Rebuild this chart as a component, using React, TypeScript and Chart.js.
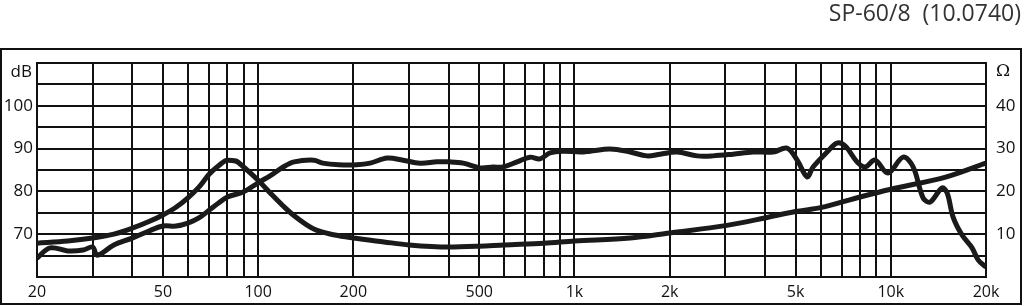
import React, { useEffect, useRef } from "react";
import { Chart, registerables } from "chart.js";

Chart.register(...registerables);

// Frequency response (SPL, dB) – frequencies in Hz
const splFreqs = [20, 22, 25, 28, 30, 31, 35, 40, 45, 50, 55, 60, 65, 70, 75, 80, 90, 100, 110, 120, 130, 150, 160, 180, 205, 226, 256, 287, 325, 368, 404, 445, 503, 553, 594, 659, 724, 778, 837, 920, 1042, 1120, 1297, 1500, 1696, 1866, 2110, 2444, 2742, 3172, 3670, 4246, 4700, 5060, 5440, 5680, 6290, 6760, 7180, 7820, 8300, 8920, 9800, 10940, 11770, 12650, 13310, 14520, 15080, 15740, 16800, 18070, 18880, 20000];
const splValues = [64.4, 66.8, 66.1, 66.3, 67.0, 65.1, 67.5, 69.1, 70.7, 71.9, 71.9, 72.6, 73.8, 75.6, 77.3, 78.7, 79.9, 82.0, 83.8, 85.7, 86.9, 87.3, 86.6, 86.2, 86.2, 86.6, 87.8, 87.3, 86.6, 86.9, 86.9, 86.6, 85.5, 85.7, 85.7, 86.9, 88.0, 87.6, 89.0, 89.4, 89.2, 89.4, 89.9, 89.2, 88.3, 88.7, 89.2, 88.3, 88.3, 88.7, 89.2, 89.2, 90.1, 87.3, 83.4, 85.7, 89.2, 91.3, 90.6, 86.9, 85.7, 87.3, 84.3, 88.0, 85.7, 78.5, 77.5, 80.8, 79.6, 74.0, 69.8, 66.8, 64.0, 62.3];

// Impedance (Ω)
const impFreqs = [20, 25, 30, 35, 40, 45, 50, 55, 60, 65, 70, 75, 80, 85, 90, 100, 110, 120, 130, 150, 175, 200, 250, 300, 400, 500, 600, 800, 1000, 1500, 2000, 3000, 4000, 5000, 6000, 8000, 10000, 15000, 20000];
const impValues = [7.9, 8.4, 9.1, 10.0, 11.4, 12.9, 14.5, 16.3, 18.5, 21.0, 24.0, 26.0, 27.3, 27.1, 25.7, 22.6, 19.4, 16.6, 14.3, 11.2, 9.8, 9.1, 8.2, 7.5, 7.0, 7.2, 7.5, 7.9, 8.4, 9.1, 10.3, 12.0, 13.8, 15.3, 16.2, 18.7, 20.5, 23.4, 26.6];

const gridFreqs = [20, 30, 40, 50, 60, 70, 80, 90, 100, 200, 300, 400, 500, 600, 700, 800, 900, 1000, 2000, 3000, 4000, 5000, 6000, 7000, 8000, 9000, 10000, 20000];
const freqLabels: Record<number, string> = { 20: "20", 50: "50", 100: "100", 200: "200", 500: "500", 1000: "1k", 2000: "2k", 5000: "5k", 10000: "10k", 20000: "20k" };
const dbTicks = [60, 65, 70, 75, 80, 85, 90, 95, 100, 105, 110];
const dbLabels = [70, 80, 90, 100];
const ohmTicks = [0, 10, 20, 30, 40, 50];
const ohmLabels = [10, 20, 30, 40];
const titleText = "SP-60/8  (10.0740)";

const FONT = '"Open Sans", "DejaVu Sans", sans-serif';
const INK = "#111111";

const framePlugin = {
  id: "frame",
  afterDraw(chart: any) {
    const ctx = chart.ctx;
    const a = chart.chartArea;
    ctx.save();
    ctx.strokeStyle = INK;
    ctx.lineWidth = 2;
    ctx.strokeRect(1, 49, 1020, 255);
    ctx.fillStyle = "#333333";
    ctx.font = `23px ${FONT}`;
    ctx.textAlign = "right";
    ctx.textBaseline = "middle";
    ctx.fillText(titleText, 1021, 14);
    ctx.fillStyle = INK;
    ctx.font = `17px ${FONT}`;
    ctx.textAlign = "right";
    ctx.fillText("dB", a.left - 5, a.top + 9);
    ctx.textAlign = "left";
    ctx.font = `17px "DejaVu Serif", serif`;
    ctx.fillText("Ω", a.right + 10, a.top + 9);
    ctx.restore();
  },
};

export default function App() {
  const ref = useRef<HTMLCanvasElement>(null);
  useEffect(() => {
    if (!ref.current) return;
    const chart = new Chart(ref.current, {
      type: "line",
      data: {
        datasets: [
          {
            label: "SPL",
            data: splFreqs.map((f, i) => ({ x: f, y: splValues[i] })),
            yAxisID: "y",
            borderColor: "#1a1a1a",
            borderWidth: 5,
            pointRadius: 0,
            tension: 0.35,
            fill: false,
          },
          {
            label: "Impedance",
            data: impFreqs.map((f, i) => ({ x: f, y: impValues[i] })),
            yAxisID: "y1",
            borderColor: "#1a1a1a",
            borderWidth: 5,
            pointRadius: 0,
            cubicInterpolationMode: "monotone",
            fill: false,
          },
        ],
      },
      options: {
        animation: false,
        responsive: false,
        devicePixelRatio: 1,
        layout: { padding: { top: 63, left: 0, right: 0, bottom: 0 } },
        plugins: { legend: { display: false }, tooltip: { enabled: false }, title: { display: false } },
        scales: {
          x: {
            type: "logarithmic",
            min: 20,
            max: 20000,
            afterBuildTicks: (s: any) => {
              s.ticks = gridFreqs.map((v) => ({ value: v }));
            },
            afterFit: (s: any) => {
              s.height = 29;
            },
            grid: { color: INK, lineWidth: 2, drawTicks: false, drawOnChartArea: true },
            border: { display: true, color: INK, width: 2 },
            ticks: {
              autoSkip: false,
              maxRotation: 0,
              padding: 6,
              color: INK,
              font: { family: FONT, size: 16 },
              callback: (v: any) => freqLabels[Number(v)] ?? "",
            },
          },
          y: {
            type: "linear",
            position: "left",
            min: 60,
            max: 110,
            afterBuildTicks: (s: any) => {
              s.ticks = dbTicks.map((v) => ({ value: v }));
            },
            afterFit: (s: any) => {
              s.width = 37;
            },
            grid: { display: true, color: INK, lineWidth: 2, drawTicks: false, drawOnChartArea: true },
            border: { display: true, color: INK, width: 2 },
            ticks: {
              autoSkip: false,
              padding: 4,
              color: INK,
              font: { family: FONT, size: 17 },
              callback: (v: any) => (dbLabels.includes(Number(v)) ? String(v) : " "),
            },
          },
          y1: {
            type: "linear",
            position: "right",
            min: 0,
            max: 50,
            afterBuildTicks: (s: any) => {
              s.ticks = ohmTicks.map((v) => ({ value: v }));
            },
            afterFit: (s: any) => {
              s.width = 38;
            },
            grid: { display: false, drawTicks: false },
            border: { display: true, color: INK, width: 2 },
            ticks: {
              autoSkip: false,
              padding: 10,
              color: INK,
              font: { family: FONT, size: 17 },
              callback: (v: any) => (ohmLabels.includes(Number(v)) ? String(v) : ""),
            },
          },
        },
      },
      plugins: [framePlugin],
    } as any);
    return () => chart.destroy();
  }, []);
  return (
    <div style={{ position: "absolute", left: 0, top: 0, width: 1024, height: 306, background: "#fff" }}>
      <canvas ref={ref} width={1024} height={306} style={{ display: "block" }} />
    </div>
  );
}
